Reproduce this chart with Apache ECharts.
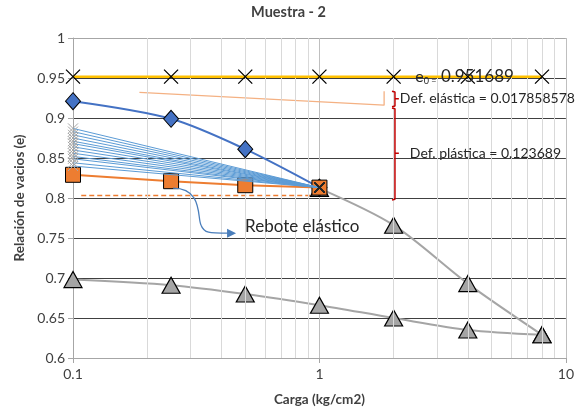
<!DOCTYPE html>
<html>
<head>
<meta charset="utf-8">
<script src="https://cdn.jsdelivr.net/npm/echarts@6/dist/echarts.min.js"></script>
<style>
  html, body { margin: 0; padding: 0; background: #fff; }
  #main { width: 577px; height: 412px; }
</style>
</head>
<body>
<div id="main"></div>
<script>
// Load steps (kg/cm2) and void ratios
const loadSteps = [0.1, 0.25, 0.5, 1, 2, 4, 8];
const e0 = 0.951689;

const diamondLoads = [0.1, 0.25, 0.5, 1];
const diamondE = [0.921, 0.899, 0.861, 0.813];

const squareLoads = [0.1, 0.25, 0.5, 1];
const squareE = [0.829, 0.821, 0.816, 0.813];

const loadingLoads = [1, 2, 4, 8];
const loadingE = [0.812, 0.766, 0.693, 0.629];

const unloadingLoads = [8, 4, 2, 1, 0.5, 0.25, 0.1];
const unloadingE = [0.629, 0.635, 0.650, 0.666, 0.680, 0.691, 0.698];

// Rebound lines: start at 0.1 kg/cm2, all meet at 1 kg/cm2
const fanStartLoad = 0.1;
const fanStartE = [0.887, 0.883, 0.879, 0.875, 0.871, 0.868, 0.864, 0.860, 0.856, 0.852, 0.849, 0.844, 0.840];
const fanEndLoad = 1;
const fanEndE = 0.813;

const dashedLoads = [0.108, 1];
const dashedE = [0.803, 0.803];

const elasticGuideLoads = [0.186, 1.83, 1.83];
const elasticGuideE = [0.932, 0.916, 0.9335];

// Brackets for elastic / plastic deformation
const bracketLoad = 2.025;
const bracketLeftLoad = 1.97;
const bracketTickLoad = 2.10;
const elasticBracketE = [0.9335, 0.924, 0.914];   // top, middle, bottom
const plasticBracketE = [0.9125, 0.856, 0.7975];

const defElastica = 'Def. elástica = 0.017858578';
const defPlastica = 'Def. plástica = 0.123689';

const yTicks = [0.6, 0.65, 0.7, 0.75, 0.8, 0.85, 0.9, 0.95, 1];
const xMinor = [0.2, 0.3, 0.4, 0.5, 0.6, 0.7, 0.8, 0.9, 2, 3, 4, 5, 6, 7, 8, 9];

const FONT = 'Lato, "Open Sans", sans-serif';
const TXT = '#404040';
const pair = (xs, ys) => xs.map((x, i) => [x, ys[i]]);
const X_SYMBOL = 'path://M0,0L10,10M10,0L0,10';

function bracketPoints(e) {
  return [
    [bracketLeftLoad, e[0]], [bracketLoad, e[0] - 0.001], [bracketLoad, e[1]],
    [bracketTickLoad, e[1]], [bracketLoad, e[1]], [bracketLoad, e[2] + 0.001],
    [bracketLeftLoad, e[2]]
  ];
}

const series = [];

// minor vertical gridlines
series.push({
  type: 'line', data: [], silent: true, z: 1,
  markLine: {
    silent: true, symbol: 'none', animation: false,
    label: { show: false },
    lineStyle: { color: '#d9d9d9', width: 1, type: 'solid' },
    data: xMinor.map(v => ({ xAxis: v }))
  }
});

series.push({
  type: 'line', z: 3, data: pair(dashedLoads, dashedE), symbol: 'none',
  lineStyle: { color: '#ed7d31', width: 1.5, type: [5, 3] }
});

series.push({
  type: 'line', z: 3, data: pair(elasticGuideLoads, elasticGuideE), symbol: 'none',
  lineStyle: { color: '#f4b183', width: 1.3 }
});

series.push({
  type: 'line', z: 4, data: pair(loadingLoads, loadingE), smooth: 0.3,
  symbol: 'triangle', symbolSize: [18, 16],
  itemStyle: { color: '#a5a5a5', borderColor: '#000', borderWidth: 1.2 },
  lineStyle: { color: '#a5a5a5', width: 2 }
});
series.push({
  type: 'line', z: 4, data: pair(unloadingLoads, unloadingE), smooth: 0.3,
  symbol: 'triangle', symbolSize: [18, 16],
  itemStyle: { color: '#a5a5a5', borderColor: '#000', borderWidth: 1.2 },
  lineStyle: { color: '#a5a5a5', width: 2 }
});

series.push({
  type: 'line', z: 5, data: pair(diamondLoads, diamondE), smooth: 0.3,
  symbol: 'diamond', symbolSize: [15, 17],
  itemStyle: { color: '#4472c4', borderColor: '#000', borderWidth: 1 },
  lineStyle: { color: '#4472c4', width: 2 }
});

series.push({
  type: 'line', z: 6, data: pair(squareLoads, squareE),
  symbol: 'rect', symbolSize: 15,
  itemStyle: { color: '#ed7d31', borderColor: '#000', borderWidth: 1 },
  lineStyle: { color: '#ed7d31', width: 2 }
});

// rebound fan lines, drawn over the square markers
fanStartE.forEach(e => {
  series.push({
    type: 'line', z: 7,
    data: [
      [fanStartLoad, e],
      { value: [fanEndLoad, fanEndE], itemStyle: { borderColor: '#262626', borderWidth: 1.2 } }
    ],
    symbol: X_SYMBOL, symbolSize: 10,
    itemStyle: { color: 'none', borderColor: '#a6a6a6', borderWidth: 1 },
    lineStyle: { color: '#5b9bd5', width: 1 }
  });
});

series.push({
  type: 'line', z: 8, data: loadSteps.map(x => [x, e0]),
  symbol: X_SYMBOL, symbolSize: 14,
  itemStyle: { color: 'none', borderColor: '#000', borderWidth: 1.3 },
  lineStyle: { color: '#ffc000', width: 2.5 }
});

[elasticBracketE, plasticBracketE].forEach(e => {
  series.push({
    type: 'line', z: 8, data: bracketPoints(e), symbol: 'none',
    lineStyle: { color: '#c00000', width: 1.5 }
  });
});

const chart = echarts.init(document.getElementById('main'));
chart.setOption({
  animation: false,
  backgroundColor: '#fff',
  textStyle: { fontFamily: FONT },
  grid: { left: 73, right: 8, top: 38, bottom: 54 },
  xAxis: {
    type: 'log', logBase: 10, min: 0.1, max: 10,
    name: 'Carga (kg/cm2)', nameLocation: 'middle', nameGap: 35,
    nameTextStyle: { fontFamily: FONT, fontSize: 13.5, fontWeight: 'bold', color: TXT },
    axisLine: { show: true, lineStyle: { color: '#a6a6a6', width: 1 } },
    axisTick: { show: true, length: 5, lineStyle: { color: '#a6a6a6' } },
    axisLabel: { fontFamily: FONT, fontSize: 14, color: TXT, margin: 9,
      formatter: v => String(+(+v).toPrecision(3)) },
    splitLine: { show: true, lineStyle: { color: '#bfbfbf', width: 1 } }
  },
  yAxis: {
    type: 'value', min: 0.6, max: 1, interval: 0.05,
    name: 'Relación de vacios (e)', nameLocation: 'middle', nameGap: 40,
    nameTextStyle: { fontFamily: FONT, fontSize: 13.5, fontWeight: 'bold', color: TXT },
    axisLine: { show: true, lineStyle: { color: '#a6a6a6', width: 1 } },
    axisTick: { show: true, length: 5, lineStyle: { color: '#a6a6a6' } },
    axisLabel: { fontFamily: FONT, fontSize: 14, color: TXT, margin: 8,
      formatter: v => String(+(+v).toFixed(2)) },
    splitLine: { show: true, lineStyle: {
      color: yTicks.map((t, i) => (i === 0 || i === yTicks.length - 1) ? '#a6a6a6' : '#404040'),
      width: 1 } }
  },
  series: series
});

// annotations placed through the chart's own coordinate conversion
const px = (x, y) => chart.convertToPixel({ gridIndex: 0 }, [x, y]);
const e0Pos = px(2.45, e0);
const elasticPos = px(bracketTickLoad, elasticBracketE[1]);
const plasticPos = px(bracketTickLoad, plasticBracketE[1]);
const arrowStart = px(squareLoads[1], squareE[1]);
const sx = arrowStart[0] + 2, sy = arrowStart[1] + 7;

chart.setOption({
  graphic: [
    { type: 'text', left: 'center', top: 5, z: 100,
      style: { text: 'Muestra - 2', fontFamily: FONT, fontSize: 14.5, fontWeight: 'bold', fill: TXT },
      x: -24 },
    { type: 'text', x: e0Pos[0], y: e0Pos[1], z: 100,
      style: {
        text: '{e|e}{s|0 =}{v| ' + e0.toFixed(6) + '}',
        verticalAlign: 'middle', fill: '#262626',
        rich: {
          e: { fontFamily: FONT, fontSize: 16, fill: '#262626' },
          s: { fontFamily: FONT, fontSize: 9, fill: '#262626', padding: [8, 0, 0, 0] },
          v: { fontFamily: FONT, fontSize: 17, fill: '#262626' }
        }
      } },
    { type: 'text', x: elasticPos[0] + 1, y: elasticPos[1], z: 100,
      style: { text: defElastica, fontFamily: FONT, fontSize: 14, fill: '#262626', verticalAlign: 'middle' } },
    { type: 'text', x: plasticPos[0] + 11, y: plasticPos[1], z: 100,
      style: { text: defPlastica, fontFamily: FONT, fontSize: 14, fill: '#262626', verticalAlign: 'middle' } },
    { type: 'text', x: sx + 72, y: sy + 38, z: 100,
      style: { text: 'Rebote elástico', fontFamily: FONT, fontSize: 17, fill: '#262626', verticalAlign: 'middle' } },
    { type: 'bezierCurve', z: 100,
      shape: { x1: sx, y1: sy, cpx1: sx + 30, cpy1: sy, cpx2: sx + 24, cpy2: sy + 30, x2: sx + 28, y2: sy + 37 },
      style: { stroke: '#4a7ebb', lineWidth: 1.3, fill: 'none' } },
    { type: 'bezierCurve', z: 100,
      shape: { x1: sx + 28, y1: sy + 37, cpx1: sx + 31, cpy1: sy + 45, cpx2: sx + 36, cpy2: sy + 45, x2: sx + 55, y2: sy + 45 },
      style: { stroke: '#4a7ebb', lineWidth: 1.3, fill: 'none' } },
    { type: 'polygon', z: 100,
      shape: { points: [[sx + 54, sy + 40.5], [sx + 63, sy + 45], [sx + 54, sy + 49.5]] },
      style: { fill: '#4a7ebb' } }
  ]
});
</script>
</body>
</html>
